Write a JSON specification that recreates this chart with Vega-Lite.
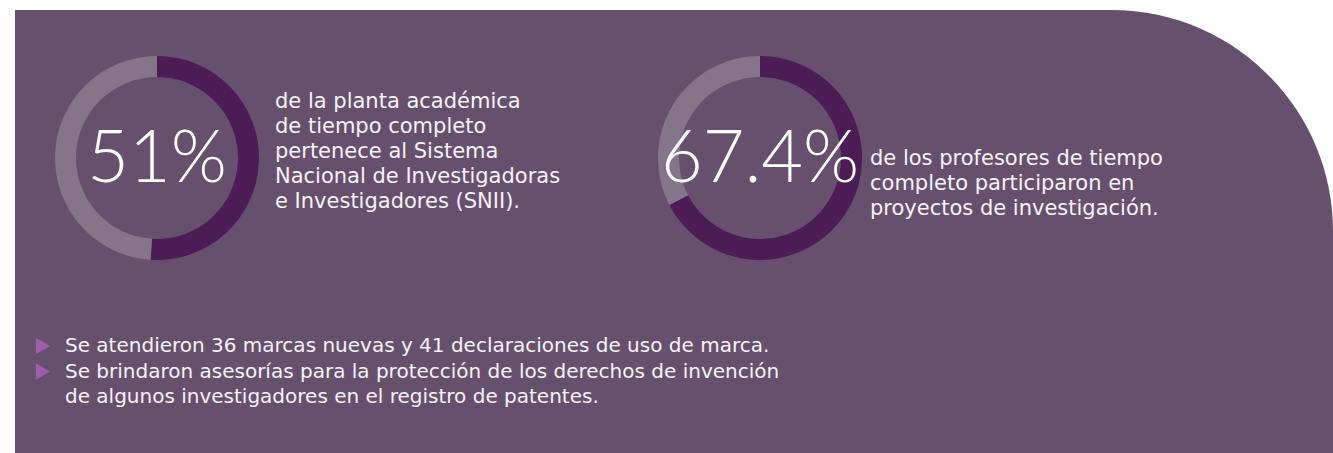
{
  "$schema": "https://vega.github.io/schema/vega-lite/v6.json",
  "width": 1318,
  "height": 443,
  "autosize": {"type": "none"},
  "padding": {"left": 15, "top": 10, "right": 0, "bottom": 0},
  "background": "#ffffff",
  "view": {"stroke": null},
  "config": {"text": {"font": "DejaVu Sans"}},
  "resolve": {"scale": {"x": "independent", "y": "independent"}},
  "datasets": {
    "panel": [{"bloque": "fondo"}],
    "donas": [
      {"indicador": "SNII", "seccion": "indicadores", "segmento": "sí", "valor": 51},
      {"indicador": "SNII", "seccion": "indicadores", "segmento": "no", "valor": 49},
      {"indicador": "Investigación", "seccion": "indicadores", "segmento": "sí", "valor": 67.4},
      {"indicador": "Investigación", "seccion": "indicadores", "segmento": "no", "valor": 32.6}
    ],
    "etiquetas": [
      {"indicador": "SNII", "seccion": "indicadores", "etiqueta": "51%", "descripcion": ["de la planta académica", "de tiempo completo", "pertenece al Sistema", "Nacional de Investigadoras", "e Investigadores (SNII)."]},
      {"indicador": "Investigación", "seccion": "indicadores", "etiqueta": "67.4%", "descripcion": ["de los profesores de tiempo", "completo participaron en", "proyectos de investigación."]}
    ],
    "lista": [
      {"item": 1, "lineas": ["Se atendieron 36 marcas nuevas y 41 declaraciones de uso de marca."]},
      {"item": 2, "lineas": ["Se brindaron asesorías para la protección de los derechos de invención", "de algunos investigadores en el registro de patentes."]}
    ]
  },
  "layer": [
    {
      "data": {"name": "panel"},
      "mark": {"type": "rect", "color": "#67506d", "cornerRadiusTopRight": 222},
      "encoding": {}
    },
    {
      "data": {"name": "donas"},
      "transform": [
        {"stack": "valor", "groupby": ["indicador"], "sort": [{"field": "segmento", "order": "descending"}], "as": ["v0", "v1"]}
      ],
      "mark": {"type": "arc", "radius": 102, "radius2": 81, "stroke": null},
      "encoding": {
        "x": {"field": "indicador", "type": "nominal", "scale": {"type": "point", "domain": ["SNII", "Investigación"], "range": [142, 745], "padding": 0}, "axis": null},
        "y": {"field": "seccion", "type": "nominal", "scale": {"type": "point", "domain": ["indicadores"], "range": [148, 148], "padding": 0}, "axis": null},
        "theta": {"field": "v0", "type": "quantitative", "scale": {"domain": [0, 100], "range": [0, 6.283185307179586]}},
        "theta2": {"field": "v1"},
        "color": {"field": "segmento", "type": "nominal", "scale": {"domain": ["sí", "no"], "range": ["#4c1c55", "#86758a"]}, "legend": null}
      }
    },
    {
      "data": {"name": "etiquetas"},
      "mark": {"type": "text", "font": "Lato", "fontWeight": 300, "fontSize": 72, "align": "center", "baseline": "middle", "dy": 2, "color": "#ffffff"},
      "encoding": {
        "x": {"field": "indicador", "type": "nominal", "scale": {"type": "point", "domain": ["SNII", "Investigación"], "range": [142, 745], "padding": 0}, "axis": null},
        "y": {"field": "seccion", "type": "nominal", "scale": {"type": "point", "domain": ["indicadores"], "range": [148, 148], "padding": 0}, "axis": null},
        "text": {"field": "etiqueta"}
      }
    },
    {
      "data": {"name": "etiquetas"},
      "transform": [{"filter": "datum.indicador === 'SNII'"}],
      "mark": {"type": "text", "fontSize": 21, "lineHeight": 25, "align": "left", "baseline": "middle", "dx": 118, "dy": -56, "color": "#f7f3f8"},
      "encoding": {
        "x": {"field": "indicador", "type": "nominal", "scale": {"type": "point", "domain": ["SNII", "Investigación"], "range": [142, 745], "padding": 0}, "axis": null},
        "y": {"field": "seccion", "type": "nominal", "scale": {"type": "point", "domain": ["indicadores"], "range": [148, 148], "padding": 0}, "axis": null},
        "text": {"field": "descripcion"}
      }
    },
    {
      "data": {"name": "etiquetas"},
      "transform": [{"filter": "datum.indicador === 'Investigación'"}],
      "mark": {"type": "text", "fontSize": 21, "lineHeight": 25, "align": "left", "baseline": "middle", "dx": 110, "dy": 1, "color": "#f7f3f8"},
      "encoding": {
        "x": {"field": "indicador", "type": "nominal", "scale": {"type": "point", "domain": ["SNII", "Investigación"], "range": [142, 745], "padding": 0}, "axis": null},
        "y": {"field": "seccion", "type": "nominal", "scale": {"type": "point", "domain": ["indicadores"], "range": [148, 148], "padding": 0}, "axis": null},
        "text": {"field": "descripcion"}
      }
    },
    {
      "data": {"name": "lista"},
      "mark": {"type": "text", "fontSize": 20, "lineHeight": 25.5, "align": "left", "baseline": "middle", "color": "#f7f3f8"},
      "encoding": {
        "x": {"value": 50},
        "y": {"field": "item", "type": "ordinal", "scale": {"type": "point", "domain": [1, 2], "range": [336, 361.5], "padding": 0}, "axis": null},
        "text": {"field": "lineas"}
      }
    },
    {
      "data": {"name": "lista"},
      "mark": {"type": "point", "shape": "triangle-right", "filled": true, "size": 270, "opacity": 1, "color": "#9d5eaa", "strokeWidth": 0},
      "encoding": {
        "x": {"value": 28},
        "y": {"field": "item", "type": "ordinal", "scale": {"type": "point", "domain": [1, 2], "range": [336, 361.5], "padding": 0}, "axis": null}
      }
    }
  ]
}
